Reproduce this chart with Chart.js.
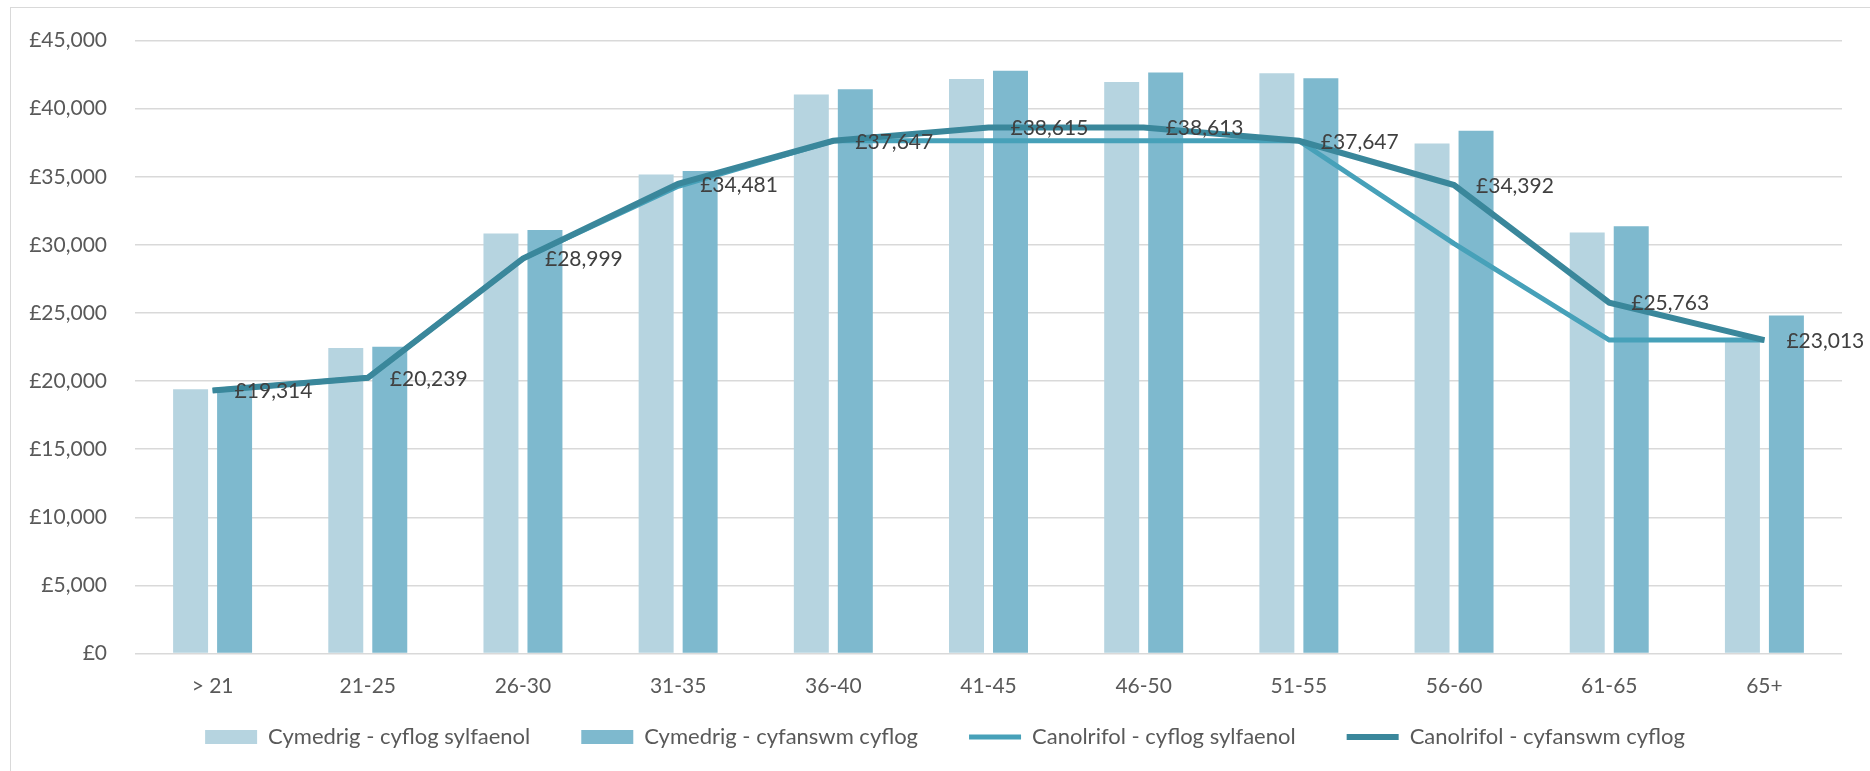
<!DOCTYPE html>
<html>
<head>
<meta charset="utf-8">
<script src="https://cdn.jsdelivr.net/npm/chart.js@4.4.1/dist/chart.umd.min.js"></script>
<style>
  html, body { margin: 0; padding: 0; background: #fff; overflow: hidden; }
  #wrap { position: relative; width: 1870px; height: 771px; overflow: hidden; }
  #frame { position: absolute; left: 10px; top: 7px; width: 1900px; height: 900px; border: 1px solid #d9d9d9; box-sizing: border-box; }
  canvas { position: absolute; left: 0; top: 0; }
</style>
</head>
<body>
<div id="wrap">
  <div id="frame"></div>
  <canvas id="chart" width="1870" height="811"></canvas>
</div>
<script>
const categories = ["> 21", "21-25", "26-30", "31-35", "36-40", "41-45", "46-50", "51-55", "56-60", "61-65", "65+"];

// Cymedrig (mean) bars
const meanBasic = [19400, 22430, 30840, 35160, 41040, 42180, 41960, 42600, 37440, 30910, 22900];
const meanTotal = [19500, 22530, 31100, 35430, 41430, 42790, 42650, 42230, 38390, 31370, 24810];

// Canolrifol (median) lines
const medianBasic = [19314, 20239, 28999, 34300, 37647, 37647, 37647, 37647, 30100, 23013, 23013];
const medianTotal = [19314, 20239, 28999, 34481, 37647, 38615, 38613, 37647, 34392, 25763, 23013];

const yTicksMax = 45000;
const yTicksStep = 5000;

const seriesNames = [
  "Cymedrig - cyflog sylfaenol",
  "Cymedrig - cyfanswm cyflog",
  "Canolrifol - cyflog sylfaenol",
  "Canolrifol - cyfanswm cyflog",
];

const CANVAS_H = 811;
const PLOT_BOTTOM = 653.5;
const FONT_SIZE = 21;
const LEGEND_FONT = 22;
const LEGEND_PAD = 51;
const LEGEND_CENTER_Y = 737;
const LEGEND_SHIFT_X = 24;

const gbp = (v) => "£" + Math.round(v).toLocaleString("en-GB");

// labels to the right of each point of the total-pay median line
const pointLabels = {
  id: "pointLabels",
  afterDatasetsDraw(chart) {
    const meta = chart.getDatasetMeta(3);
    const ctx = chart.ctx;
    ctx.save();
    ctx.font = FONT_SIZE + "px Lato";
    ctx.fillStyle = "#404040";
    ctx.textAlign = "left";
    ctx.textBaseline = "middle";
    meta.data.forEach((pt, i) => {
      ctx.fillText(gbp(medianTotal[i]), pt.x + 22, pt.y + 1);
    });
    ctx.restore();
  },
};

// the legend keeps wide gaps between items, so lift it up closer to the axis
const liftLegend = {
  id: "liftLegend",
  afterLayout(chart) {
    const lg = chart.legend;
    const h = lg.bottom - lg.top;
    lg.top = LEGEND_CENTER_Y - LEGEND_PAD - LEGEND_FONT / 2;
    lg.bottom = lg.top + h;
    lg.left += LEGEND_SHIFT_X;
    lg.right += LEGEND_SHIFT_X;
  },
};

Chart.defaults.font.family = "Lato";
Chart.defaults.font.size = FONT_SIZE;
Chart.defaults.color = "#595959";

new Chart(document.getElementById("chart"), {
  type: "bar",
  data: {
    labels: categories,
    datasets: [
      {
        label: seriesNames[0],
        data: meanBasic,
        backgroundColor: "#b6d4e0",
        borderWidth: 0,
        pointStyle: "rect",
        categoryPercentage: 0.567,
        barPercentage: 0.795,
        order: 2,
      },
      {
        label: seriesNames[1],
        data: meanTotal,
        backgroundColor: "#7eb9ce",
        borderWidth: 0,
        pointStyle: "rect",
        categoryPercentage: 0.567,
        barPercentage: 0.795,
        order: 3,
      },
      {
        type: "line",
        label: seriesNames[2],
        data: medianBasic,
        borderColor: "#47a1b9",
        backgroundColor: "#47a1b9",
        borderWidth: 5,
        pointRadius: 0,
        pointStyle: "line",
        tension: 0,
        order: 1,
      },
      {
        type: "line",
        label: seriesNames[3],
        data: medianTotal,
        borderColor: "#3a879b",
        backgroundColor: "#3a879b",
        borderWidth: 6,
        pointRadius: 0,
        pointStyle: "line",
        tension: 0,
        order: 0,
      },
    ],
  },
  options: {
    responsive: false,
    animation: false,
    layout: { padding: { left: 0, right: 28, top: 36, bottom: 0 } },
    plugins: {
      tooltip: { enabled: false },
      legend: {
        position: "bottom",
        labels: {
          usePointStyle: true,
          pointStyleWidth: 52,
          boxHeight: 14,
          padding: LEGEND_PAD,
          color: "#595959",
          font: { size: LEGEND_FONT },
          sort: (a, b) => a.datasetIndex - b.datasetIndex,
        },
      },
    },
    scales: {
      x: {
        grid: { display: false },
        border: { display: false },
        ticks: { padding: 12, color: "#595959" },
        afterFit: (s) => {
          s.height = CANVAS_H - (LEGEND_PAD + LEGEND_FONT + 10) - PLOT_BOTTOM;
        },
      },
      y: {
        min: 0,
        max: yTicksMax,
        ticks: { stepSize: yTicksStep, padding: 28, callback: (v) => gbp(v), color: "#595959" },
        grid: { color: "#d9d9d9", lineWidth: 1.5, drawTicks: false },
        border: { display: false },
        afterFit: (s) => { s.width = 135; },
      },
    },
  },
  plugins: [pointLabels, liftLegend],
});
</script>
</body>
</html>
